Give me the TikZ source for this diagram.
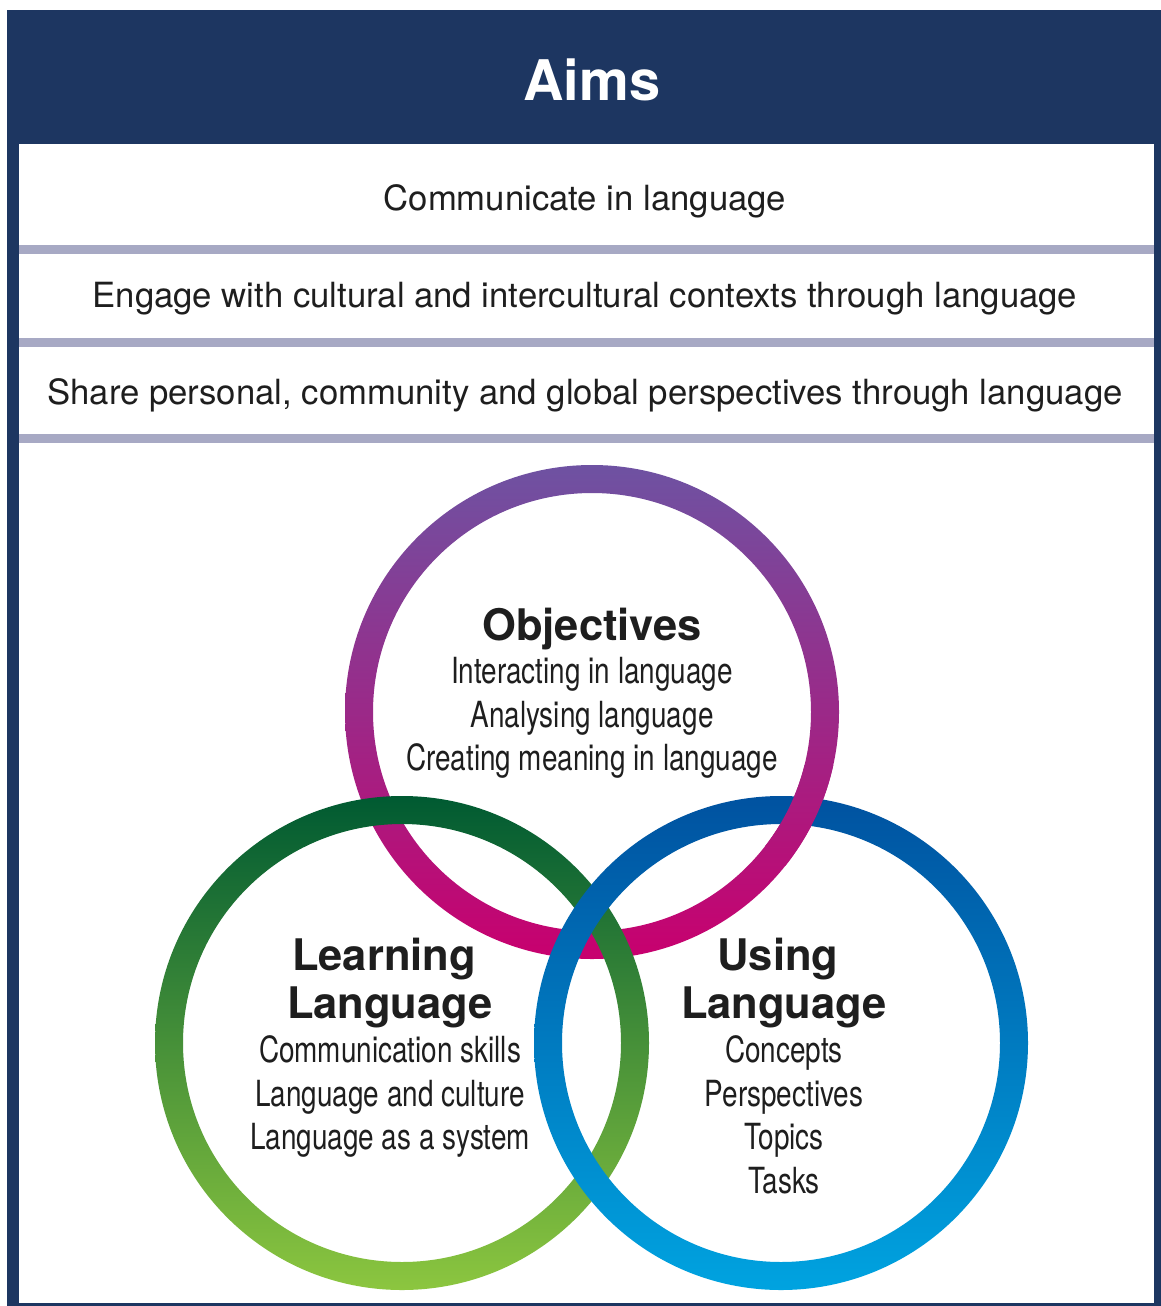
\documentclass[tikz,border=0pt]{standalone}
\usepackage{fontspec}
\setmainfont{TeX Gyre Heros}
\newfontfamily\condfont[FakeStretch=0.775]{TeX Gyre Heros}
\usetikzlibrary{positioning}
\definecolor{aimsnavy}{RGB}{29,54,97}
\definecolor{barlilac}{RGB}{167,169,196}
\definecolor{inktext}{RGB}{30,30,30}
\definecolor{objtop}{RGB}{110,82,162}
\definecolor{objbot}{RGB}{200,0,110}
\definecolor{learntop}{RGB}{0,90,50}
\definecolor{learnbot}{RGB}{140,198,63}
\definecolor{usetop}{RGB}{0,82,160}
\definecolor{usebot}{RGB}{0,163,224}

% centre x, centre y, top colour, bottom colour
\newcommand{\vennring}[4]{%
  \shade[top color=#3,bottom color=#4,even odd rule]
    (#1,#2) circle (247pt) (#1,#2) circle (219pt);}

\begin{document}
\begin{tikzpicture}[x=1pt,y=-1pt,
  every node/.style={inner sep=0pt,text=inktext},
  aimrow/.style={anchor=base,font=\fontsize{34.7}{40}\selectfont},
  ringhead/.style={anchor=base,font=\fontsize{43.5}{48}\selectfont\bfseries},
  ringitem/.style={anchor=base,font=\condfont\fontsize{36}{43}\selectfont},
  bar/.style={fill=barlilac}
]

% the frame
\useasboundingbox (0,0) rectangle (1161,1306);
\fill[white] (0,0) rectangle (1161,1306);
\fill[aimsnavy] (7,10) rectangle (1161,1306);
\fill[white] (19,144) rectangle (1154,1303);

% the header
\node[anchor=base,text=white,font=\fontsize{56}{60}\selectfont\bfseries] (aims) at (592,100) {Aims};

% the aims
\foreach \y in {245,338,434}
  \fill[bar] (19,\y) rectangle (1154,{\y+9});
\node[aimrow] (aim1) at (585,210) {Communicate in language};
\node[aimrow] (aim2) at (585,307) {Engage with cultural and intercultural contexts through language};
\node[aimrow] (aim3) at (585,404) {Share personal, community and global perspectives through language};

% the rings
\vennring{592}{712}{objtop}{objbot}
\vennring{402}{1043}{learntop}{learnbot}
\vennring{781}{1043}{usetop}{usebot}
% objectives goes over using on the right
\begin{scope}
  \clip (765,765) rectangle (850,865);
  \vennring{592}{712}{objtop}{objbot}
\end{scope}

% objectives
\node[ringhead] (obj) at (592,640) {Objectives};
\foreach \t [count=\i] in {Interacting in language,Analysing language,Creating meaning in language}
  \node[ringitem] (obj\i) at (592,{640+43.5*\i}) {\t};

% learning language
\node[ringhead] (learn) at (384,970) {Learning};
\node[ringhead] (learnb) at (390,1018) {Language};
\foreach \t [count=\i] in {Communication skills,Language and culture,Language as a system}
  \node[ringitem] (learn\i) at (390,{1019+43.5*\i}) {\t};

% using language
\node[ringhead] (use) at (778,970) {Using};
\node[ringhead] (useb) at (784,1018) {Language};
\foreach \t [count=\i] in {Concepts,Perspectives,Topics,Tasks}
  \node[ringitem] (use\i) at (784,{1019+43.5*\i}) {\t};
\end{tikzpicture}
\end{document}
